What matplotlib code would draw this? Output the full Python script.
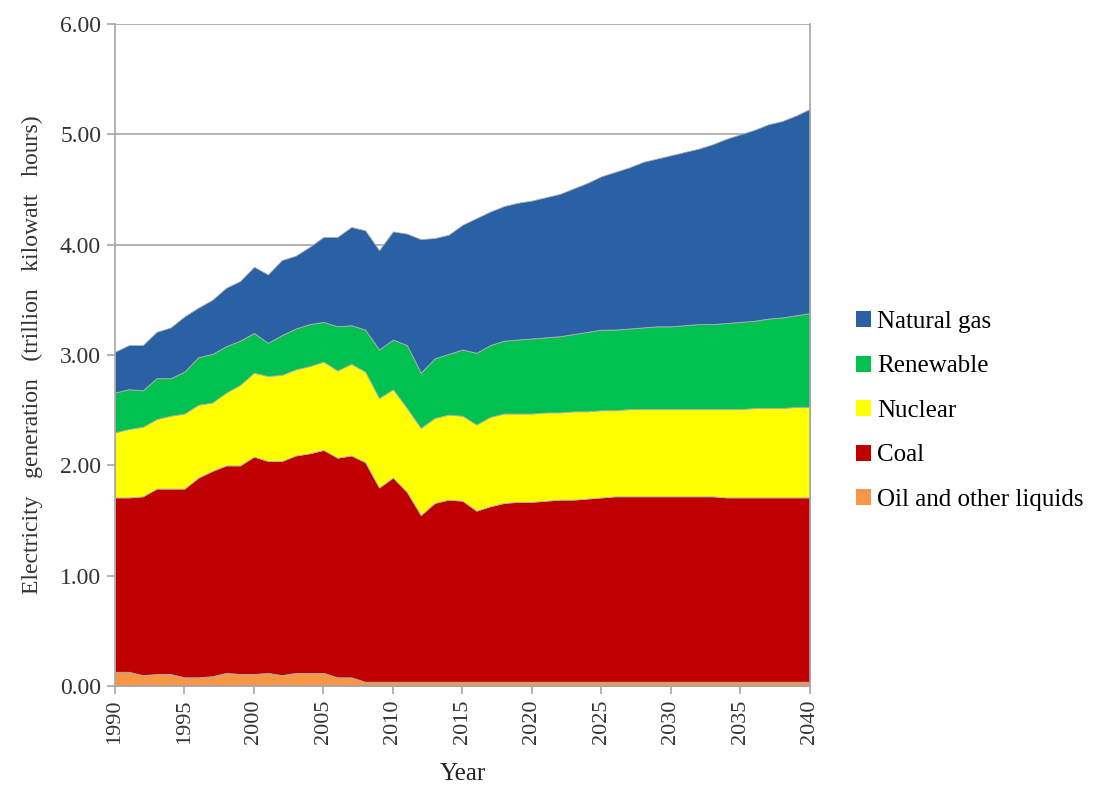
import matplotlib
matplotlib.use("Agg")
import matplotlib.pyplot as plt
from matplotlib.patches import Patch
import numpy as np

years = list(range(1990, 2041))

oil = [0.13, 0.13, 0.10, 0.11, 0.11, 0.08, 0.08, 0.09, 0.12, 0.11,
       0.11, 0.12, 0.10, 0.12, 0.12, 0.12, 0.08, 0.08, 0.04, 0.04,
       0.04, 0.04, 0.04, 0.04, 0.04, 0.04, 0.04, 0.04, 0.04, 0.04,
       0.04, 0.04, 0.04, 0.04, 0.04, 0.04, 0.04, 0.04, 0.04, 0.04,
       0.04, 0.04, 0.04, 0.04, 0.04, 0.04, 0.04, 0.04, 0.04, 0.04, 0.04]

coal = [1.58, 1.58, 1.62, 1.68, 1.68, 1.71, 1.81, 1.86, 1.88, 1.89,
        1.97, 1.92, 1.94, 1.97, 1.99, 2.02, 1.99, 2.01, 1.99, 1.76,
        1.85, 1.72, 1.51, 1.62, 1.65, 1.64, 1.55, 1.59, 1.62, 1.63,
        1.63, 1.64, 1.65, 1.65, 1.66, 1.67, 1.68, 1.68, 1.68, 1.68,
        1.68, 1.68, 1.68, 1.68, 1.67, 1.67, 1.67, 1.67, 1.67, 1.67, 1.67]

nuclear = [0.59, 0.62, 0.63, 0.63, 0.66, 0.68, 0.66, 0.62, 0.66, 0.73,
           0.76, 0.77, 0.78, 0.78, 0.79, 0.80, 0.79, 0.83, 0.82, 0.81,
           0.80, 0.76, 0.79, 0.77, 0.77, 0.77, 0.78, 0.81, 0.81, 0.80,
           0.80, 0.80, 0.79, 0.80, 0.79, 0.79, 0.78, 0.79, 0.79, 0.79,
           0.79, 0.79, 0.79, 0.79, 0.80, 0.80, 0.81, 0.81, 0.81, 0.82, 0.82]

renewable = [0.36, 0.36, 0.33, 0.37, 0.34, 0.38, 0.43, 0.44, 0.42, 0.40,
             0.36, 0.30, 0.36, 0.37, 0.38, 0.36, 0.40, 0.35, 0.38, 0.44,
             0.45, 0.57, 0.50, 0.54, 0.55, 0.60, 0.65, 0.65, 0.66, 0.67,
             0.68, 0.68, 0.69, 0.70, 0.72, 0.73, 0.73, 0.73, 0.74, 0.75,
             0.75, 0.76, 0.77, 0.77, 0.78, 0.79, 0.79, 0.81, 0.82, 0.83, 0.85]

natural_gas = [0.37, 0.40, 0.41, 0.42, 0.46, 0.50, 0.45, 0.49, 0.53, 0.54,
               0.60, 0.62, 0.68, 0.66, 0.70, 0.77, 0.81, 0.89, 0.90, 0.90,
               0.98, 1.01, 1.21, 1.09, 1.08, 1.13, 1.22, 1.21, 1.22, 1.24,
               1.25, 1.27, 1.29, 1.32, 1.35, 1.39, 1.43, 1.46, 1.50, 1.52,
               1.55, 1.57, 1.59, 1.63, 1.67, 1.70, 1.73, 1.76, 1.78, 1.81, 1.85]

series_names = ["Oil and other liquids", "Coal", "Nuclear", "Renewable", "Natural gas"]
colors = ["#F79646", "#C00000", "#FFFF00", "#00C050", "#2A61A5"]

plt.rcParams['font.family'] = ['Liberation Serif', 'DejaVu Serif']

fig = plt.figure(figsize=(10.99, 7.96), dpi=100)
ax = fig.add_axes([0.1046, 0.138, 0.6324, 0.832])

ax.stackplot(years, oil, coal, nuclear, renewable, natural_gas,
             colors=colors, edgecolor="#B0B0B0", linewidth=0.6, zorder=2)

ax.set_xlim(1990, 2040)
ax.set_ylim(0, 6)
ax.set_yticks(np.arange(0, 6.01, 1.0))
ax.set_yticklabels([f"{v:.2f}" for v in np.arange(0, 6.01, 1.0)], fontsize=17, color="#333333")
ax.set_xticks(list(range(1990, 2041, 5)))
ax.set_xticklabels([str(y) for y in range(1990, 2041, 5)], rotation=90, fontsize=16, color="#333333")
ax.yaxis.grid(True, color="#A6A6A6", linewidth=1.2, zorder=1)
ax.set_axisbelow(True)
for s in ax.spines.values():
    s.set_color("#A6A6A6")
    s.set_linewidth(1.2)
ax.spines['top'].set_visible(False)
ax.tick_params(axis='both', color="#A6A6A6", length=6, width=1.2)
ax.tick_params(axis='y', pad=4)

ax.set_ylabel("Electricity   generation   (trillion   kilowatt   hours)", fontsize=17,
              color="#333333", labelpad=12)
ax.set_xlabel("Year", fontsize=18, color="#222222", labelpad=14)

handles = [Patch(facecolor=c, edgecolor='none') for c in colors][::-1]
labels = series_names[::-1]
leg = fig.legend(handles, labels, loc='center left', bbox_to_anchor=(0.758, 0.4837),
                 frameon=False, fontsize=18, handlelength=0.6, handleheight=0.6,
                 handletextpad=0.25, labelspacing=0.9)

fig.savefig("out.png", dpi=100)
